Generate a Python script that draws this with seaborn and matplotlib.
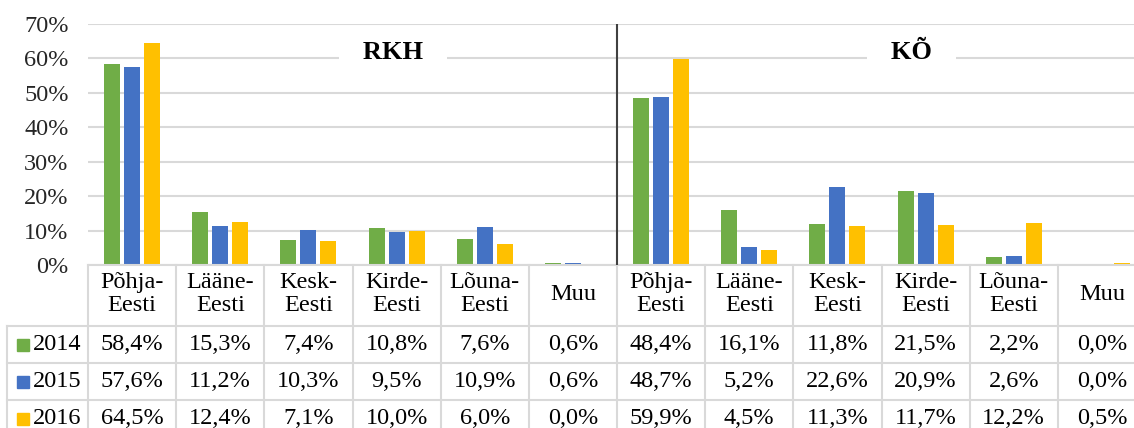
import matplotlib
matplotlib.use("Agg")
import matplotlib.pyplot as plt
import matplotlib.transforms as mtransforms
import numpy as np
import pandas as pd
import seaborn as sns

# ---------------- data (percent) ----------------
regions = ["Põhja-\nEesti", "Lääne-\nEesti", "Kesk-\nEesti", "Kirde-\nEesti", "Lõuna-\nEesti", "Muu"]
groups = ["RKH", "KÕ"]
years = ["2014", "2015", "2016"]

rkh_2014 = [58.4, 15.3, 7.4, 10.8, 7.6, 0.6]
rkh_2015 = [57.6, 11.2, 10.3, 9.5, 10.9, 0.6]
rkh_2016 = [64.5, 12.4, 7.1, 10.0, 6.0, 0.0]

ko_2014 = [48.4, 16.1, 11.8, 21.5, 2.2, 0.0]
ko_2015 = [48.7, 5.2, 22.6, 20.9, 2.6, 0.0]
ko_2016 = [59.9, 4.5, 11.3, 11.7, 12.2, 0.5]

colors = ["#70AD47", "#4472C4", "#FFC000"]

# long table for seaborn
series = {"RKH": [rkh_2014, rkh_2015, rkh_2016], "KÕ": [ko_2014, ko_2015, ko_2016]}
rows = []
order = []
for g in groups:
    for i, reg in enumerate(regions):
        key = g + "|" + reg
        order.append(key)
        for y, vals in zip(years, series[g]):
            rows.append({"col": key, "year": y, "value": vals[i]})
df = pd.DataFrame(rows)

# ---------------- figure ----------------
plt.rcParams["font.family"] = ["Liberation Serif", "DejaVu Serif"]
W, H = 1134, 428
fig = plt.figure(figsize=(W / 100, H / 100), dpi=100)
ax = fig.add_axes([88 / W, 1 - 265 / H, 1058 / W, 241 / H])

sns.barplot(data=df, x="col", y="value", hue="year", order=order, hue_order=years,
            palette=colors, saturation=1, width=0.68, gap=0.2, legend=False, ax=ax,
            edgecolor="none")

ax.set_xlim(-0.5, 11.5)
ax.set_ylim(0, 70)
ax.set_yticks(np.arange(0, 71, 10))
ax.set_yticklabels([f"{t}%" for t in range(0, 71, 10)])
ax.set_xticks([])
ax.set_xlabel("")
ax.set_ylabel("")
ax.yaxis.grid(True, color="#d9d9d9", lw=1.5)
ax.set_axisbelow(True)
ax.tick_params(axis="y", length=0, pad=14, labelsize=17.5, labelcolor="#262626")
for s in ["top", "right", "left"]:
    ax.spines[s].set_visible(False)
ax.spines["bottom"].set_color("#d9d9d9")
ax.spines["bottom"].set_linewidth(1.5)

# separator between the two blocks
ax.axvline(5.5, color="#404040", lw=1.5, zorder=3)

# block titles
for x, t in [(2.96, "RKH"), (8.84, "KÕ")]:
    ax.text(x, 61.6, "   " + t + "   ", ha="center", va="center", fontsize=19,
            fontweight="bold", color="black", zorder=4,
            bbox=dict(boxstyle="square,pad=0.15", fc="white", ec="none"))

# ---------------- data table ----------------
tr = mtransforms.blended_transform_factory(ax.transData, ax.transAxes)
px = 241.0  # axes height in pixels


def yax(py):
    return (265 - py) / px


line_kw = dict(color="#d9d9d9", lw=1.5, transform=tr, clip_on=False)
row_lines = [326, 363, 400, 437]
left_x = -0.5 - 81 / 88.2
for py in row_lines:
    ax.plot([left_x, 11.5], [yax(py)] * 2, **line_kw)
for k in range(13):
    ax.plot([k - 0.5] * 2, [yax(265), yax(437)], **line_kw)
ax.plot([left_x] * 2, [yax(326), yax(437)], **line_kw)

# header
for k, key in enumerate(order):
    label = key.split("|")[1]
    ax.text(k, yax(294), label, ha="center", va="center", fontsize=17.5,
            linespacing=1.15, transform=tr, clip_on=False, color="black")

# value rows
row_y = [344.5, 381.5, 418.5]
for r, y in enumerate(years):
    vals = series["RKH"][r] + series["KÕ"][r]
    for k, v in enumerate(vals):
        ax.text(k, yax(row_y[r]), f"{v:.1f}%".replace(".", ","), ha="center", va="center",
                fontsize=17.5, transform=tr, clip_on=False, color="black")
    ax.plot([-0.5 - 65 / 88.2], [yax(row_y[r])], marker="s", ms=9, color=colors[r],
            transform=tr, clip_on=False, linestyle="none")
    ax.text(-0.5 - 55 / 88.2, yax(row_y[r]), y, ha="left", va="center", fontsize=17.5,
            transform=tr, clip_on=False, color="black")

fig.savefig("out.png", dpi=100)
